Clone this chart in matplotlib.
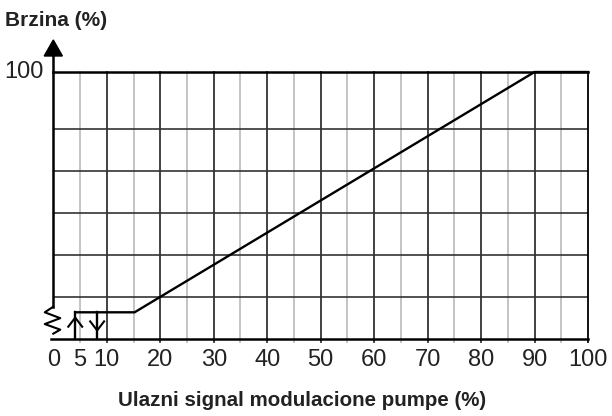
import numpy as np
import matplotlib
matplotlib.use('Agg')
import matplotlib.pyplot as plt

# curve: pump speed vs. modulation input signal
curve_x = [4.1, 15.2, 90, 100]
curve_y = [10, 10, 100, 100]
hyst_on = 4.1      # switch-on point (arrow up)
hyst_off = 8.2     # switch-off point (arrow down)

x_ticks = [0, 5, 10, 20, 30, 40, 50, 60, 70, 80, 90, 100]
x_major = [10, 20, 30, 40, 50, 60, 70, 80, 90]
x_minor = [5, 15, 25, 35, 45, 55, 65, 75, 85, 95]
y_grid = [15.7, 31.5, 47.2, 62.9, 78.5]

plt.rcParams['font.family'] = ['Liberation Sans', 'DejaVu Sans']

fig = plt.figure(figsize=(6.12, 4.16), dpi=100)
ax = fig.add_axes([0.0871, 0.1851, 0.8737, 0.6418])
ax.set_xlim(0, 100)
ax.set_ylim(0, 100)
ax.axis('off')

# grid
for x in x_minor:
    ax.plot([x, x], [-1.2, 100], color='#c4c4c4', lw=1.4, clip_on=False, zorder=1)
for x in x_major:
    ax.plot([x, x], [-1.2, 100], color='#333333', lw=1.3, clip_on=False, zorder=2)
for y in y_grid:
    ax.plot([0, 100], [y, y], color='#333333', lw=1.2, zorder=2)

# frame
ax.plot([0, 100], [100, 100], color='black', lw=1.8, clip_on=False, zorder=3)
ax.plot([100, 100], [-1.2, 100], color='black', lw=1.3, clip_on=False, zorder=3)
ax.plot([-0.5, 100], [0, 0], color='black', lw=1.8, clip_on=False, zorder=3)
ax.plot([0, 0], [12.1, 106], color='black', lw=1.8, clip_on=False, zorder=3)
# broken axis zigzag
zz_x = [0, -1.6, 1.3, -1.6, 1.3, 0]
zz_y = [12.1, 10.0, 7.8, 5.6, 3.5, 2.0]
ax.plot(zz_x, zz_y, color='black', lw=1.5, clip_on=False, zorder=3)
# axis arrow
ax.fill([-1.7, 1.7, 0], [106, 106, 112], color='black', clip_on=False, zorder=3)

# curve
ax.plot(curve_x, curve_y, color='black', lw=1.7, clip_on=False, zorder=4,
        solid_joinstyle='miter')
ax.plot([hyst_on, hyst_on], [0, 10], color='black', lw=1.7, zorder=4)
ax.plot([hyst_off, hyst_off], [0, 10], color='black', lw=1.7, zorder=4)
ax.plot([hyst_on - 1.3, hyst_on, hyst_on + 1.3], [4.6, 8.0, 4.6], color='black', lw=1.5, zorder=4)
ax.plot([hyst_off - 1.3, hyst_off, hyst_off + 1.3], [6.6, 3.2, 6.6], color='black', lw=1.5, zorder=4)

# tick labels
for x in x_ticks:
    ax.text(x, -7.7, str(x), ha='center', va='center', fontsize=17, color='#222222')
ax.text(-1.8, 100, '100', ha='right', va='center', fontsize=17, color='#222222')

fig.text(5 / 612, 1 - 20 / 416, 'Brzina (%)', ha='left', va='center',
         fontsize=15, fontweight='bold', color='#222222')
fig.text(302 / 612, 1 - 401 / 416, 'Ulazni signal modulacione pumpe (%)', ha='center',
         va='center', fontsize=14.8, fontweight='bold', color='#222222')

fig.savefig('out.png', dpi=100)
